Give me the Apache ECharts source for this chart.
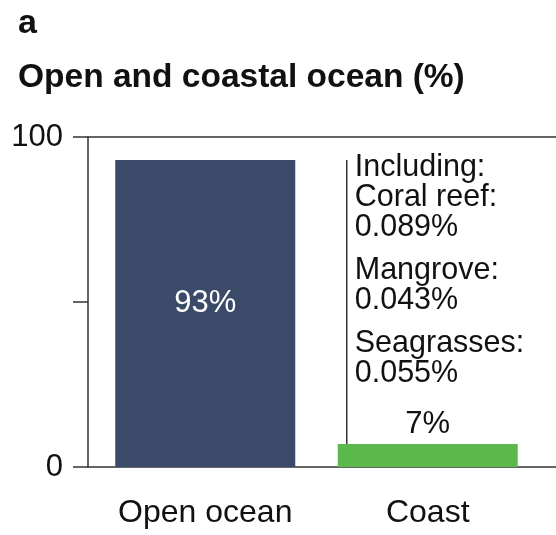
<!DOCTYPE html>
<html>
<head>
<meta charset="utf-8">
<script src="https://cdn.jsdelivr.net/npm/echarts@6/dist/echarts.min.js"></script>
<style>
  html, body { margin: 0; padding: 0; background: #fff; }
  #chart { width: 556px; height: 535px; }
</style>
</head>
<body>
<div id="chart"></div>
<script>
// data
const categories = ['Open ocean', 'Coast'];
const shares = [93, 7];
const barColors = ['#3a4a68', '#5bb84a'];
const yTicks = [0, 50, 100];
// annotation above the coast bar
const noteGroups = [
  ['Including:', 'Coral reef:', '0.089%'],
  ['Mangrove:', '0.043%'],
  ['Seagrasses:', '0.055%']
];

const FONT = '"Liberation Sans", Arial, Helvetica, sans-serif';
const chart = echarts.init(document.getElementById('chart'));

const option = {
  animation: false,
  title: [
    { text: 'a', left: 13, top: 2, textStyle: { fontFamily: FONT, fontSize: 34, fontWeight: 'bold', color: '#111' } },
    { text: 'Open and coastal ocean (%)', left: 13, top: 56, textStyle: { fontFamily: FONT, fontSize: 33.5, fontWeight: 'bold', color: '#111' } }
  ],
  grid: [
    // frame: axis lines
    { left: 88, right: 0, top: 137, bottom: 68 },
    // bars
    { left: 94, right: 17, top: 137, bottom: 68 }
  ],
  xAxis: [
    { gridIndex: 0, type: 'category', data: [''], position: 'bottom',
      axisLine: { lineStyle: { color: '#333', width: 1.5 } }, axisTick: { show: false }, axisLabel: { show: false } },
    { gridIndex: 0, type: 'category', data: [''], position: 'top',
      axisLine: { lineStyle: { color: '#333', width: 1.5 } }, axisTick: { show: false }, axisLabel: { show: false } },
    { gridIndex: 1, type: 'category', data: categories,
      axisLine: { show: false }, axisTick: { show: false },
      axisLabel: { interval: 0, margin: 30, fontFamily: FONT, fontSize: 32, color: '#111' } }
  ],
  yAxis: [
    { gridIndex: 0, type: 'value', min: yTicks[0], max: yTicks[yTicks.length - 1], interval: 50,
      splitLine: { show: false },
      axisLine: { show: true, lineStyle: { color: '#333', width: 1.5 } },
      axisTick: { show: true, length: 15, lineStyle: { color: '#333', width: 1.5 } },
      axisLabel: { margin: 25, fontFamily: FONT, fontSize: 31, color: '#111',
        formatter: v => (v === 50 ? '' : String(v)) } },
    { gridIndex: 1, type: 'value', min: 0, max: 100, show: false }
  ],
  series: [{
    type: 'bar',
    xAxisIndex: 2,
    yAxisIndex: 1,
    barWidth: 180,
    data: shares.map((v, i) => ({
      value: v,
      itemStyle: { color: barColors[i] },
      label: i === 0
        ? { show: true, position: 'inside', offset: [0, -10], color: '#fff', fontFamily: FONT, fontSize: 31, formatter: '{c}%' }
        : { show: true, position: 'top', distance: 4, color: '#111', fontFamily: FONT, fontSize: 31, formatter: '{c}%' }
    }))
  }]
};
chart.setOption(option);

// annotation line and text, placed from the coast bar position
const coastTop = chart.convertToPixel({ xAxisIndex: 2, yAxisIndex: 1 }, [categories[1], shares[1]]);
const lineX = coastTop[0] - 90 + 9;
const groupTops = [152, 255, 328];
const graphics = [{
  type: 'line',
  shape: { x1: lineX, y1: 160, x2: lineX, y2: coastTop[1] },
  style: { stroke: '#333', lineWidth: 1.5 }
}];
noteGroups.forEach((lines, i) => {
  graphics.push({
    type: 'text',
    left: lineX + 8,
    top: groupTops[i],
    style: { text: lines.join('\n'), fontFamily: FONT, fontSize: 30.5, lineHeight: 30, fill: '#111' }
  });
});
chart.setOption({ graphic: graphics });
</script>
</body>
</html>
